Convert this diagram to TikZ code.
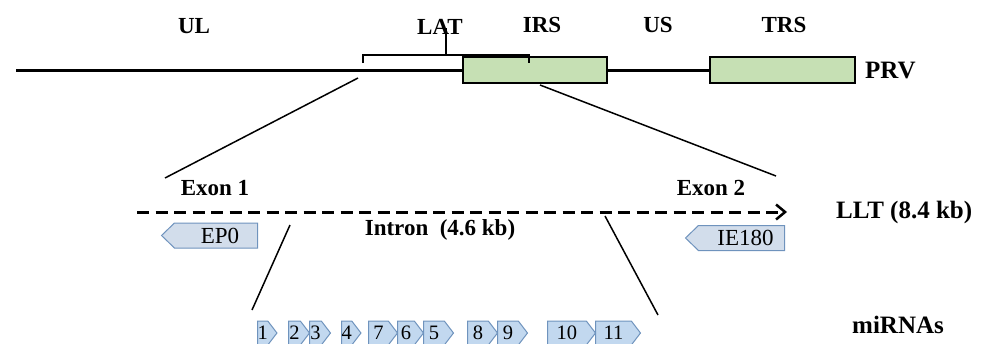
\documentclass[tikz,border=0pt]{standalone}
\usepackage{fontspec}
\setmainfont{Liberation Serif}
\usetikzlibrary{shapes.symbols,arrows.meta}
\definecolor{boxgreen}{HTML}{C6E0B4}
\definecolor{mirfill}{HTML}{C2D8EF}
\definecolor{genefill}{HTML}{D2DDEB}
\definecolor{blueline}{HTML}{6F93BD}
\begin{document}
\begin{tikzpicture}[x=1pt,y=-1pt,
  lbl/.style={font=\fontsize{23}{23}\selectfont\bfseries, inner sep=0pt},
  biglbl/.style={font=\fontsize{25}{25}\selectfont\bfseries, inner sep=0pt},
  region/.style={draw=black, line width=2pt, fill=boxgreen, minimum height=26pt, inner sep=0pt},
  gene/.style={signal, signal to=west, signal pointer angle=88, draw=blueline, line width=1pt, fill=genefill,
    minimum height=25pt, inner sep=0pt, anchor=east, font=\fontsize{23}{23}\selectfont},
  mir/.style={signal, signal to=east, signal pointer angle=105, draw=blueline, line width=1pt, fill=mirfill,
    minimum height=24pt, inner sep=0pt, anchor=west, font=\fontsize{20.5}{20.5}\selectfont},
  conn/.style={line width=1.5pt},
  genome/.style={line width=3pt},
]
\useasboundingbox (0,0) rectangle (986,343);
\clip (0,0) rectangle (986,343);

% genome
\coordinate (gstart) at (16,70);
\node[region, minimum width=144pt] (irs) at (535,70) {};
\node[region, minimum width=145pt] (trs) at (782.5,70) {};
\draw[genome] (gstart) -- (irs.west);
\draw[genome] (irs.east) -- (trs.west);

% labels top
\node[lbl] (ul) at (194,26) {UL};
\node[lbl] (lat) at (440,27) {LAT};
\node[lbl] (irsl) at (542,25) {IRS};
\node[lbl] (usl) at (658,25) {US};
\node[lbl] (trsl) at (784,25) {TRS};
\node[biglbl, anchor=west] (prv) at (865,71) {PRV};

% LAT bracket
\coordinate (bl) at (363,63);
\coordinate (blt) at (363,55);
\coordinate (brt) at (529,55);
\coordinate (br) at (529,63);
\coordinate (bs) at (446,55);
\coordinate (bst) at (446,28);
\draw[line width=2.5pt] (bl) -- (blt) -- (brt) -- (br);
\draw[line width=2.5pt] (bs) -- (bst);

% zoom lines to LLT
\coordinate (z1a) at (358,78);
\coordinate (z1b) at (165,178);
\coordinate (z2a) at (540,85);
\coordinate (z2b) at (776,176);
\draw[conn] (z1a) -- (z1b);
\draw[conn] (z2a) -- (z2b);

% LLT
\coordinate (lltstart) at (137,212);
\coordinate (lltend) at (787,212);
\draw[line width=3pt, dash pattern=on 12pt off 6.5pt, -{Straight Barb[length=9pt,width=15pt,line width=2.5pt]}] (lltstart) -- (lltend);
\node[lbl] (exon1) at (215,188) {Exon 1};
\node[lbl] (exon2) at (711,188) {Exon 2};
\node[biglbl, anchor=west] (llt) at (836,212) {LLT (8.4 kb)};
\node[lbl] (intron) at (440,230) {Intron\ \ (4.6 kb)};

% genes
\node[gene, minimum width=96pt] (ep0) at (258,235.5) {\hspace*{8pt}EP0};
\node[gene, minimum width=99pt] (ie180) at (785,238) {\hspace*{8pt}IE180};

% zoom lines to miRNAs
\coordinate (z3a) at (290,225);
\coordinate (z3b) at (252,310);
\coordinate (z4a) at (605,216);
\coordinate (z4b) at (658,315);
\draw[conn] (z3a) -- (z3b);
\draw[conn] (z4a) -- (z4b);

% miRNAs (drawn right to left so tips lie on top)
\node[mir, minimum width=45pt] (m11) at (595,333) {11};
\node[mir, minimum width=48pt] (m10) at (547,333) {10};
\node[mir, minimum width=30pt] (m9) at (497,333) {9};
\node[mir, minimum width=30pt] (m8) at (467,333) {8};
\node[mir, minimum width=30pt] (m5) at (423,333) {5};
\node[mir, minimum width=26pt] (m6) at (397,333) {6};
\node[mir, minimum width=29pt] (m7) at (368,333) {7};
\node[mir, minimum width=17pt] (m4) at (341,333) {4};
\node[mir, minimum width=21pt] (m3) at (309,333) {3};
\node[mir, minimum width=21pt] (m2) at (288,333) {2};
\node[mir, minimum width=18pt] (m1) at (257,333) {1};

\node[biglbl] (mirl) at (898,325) {miRNAs};
\end{tikzpicture}
\end{document}
